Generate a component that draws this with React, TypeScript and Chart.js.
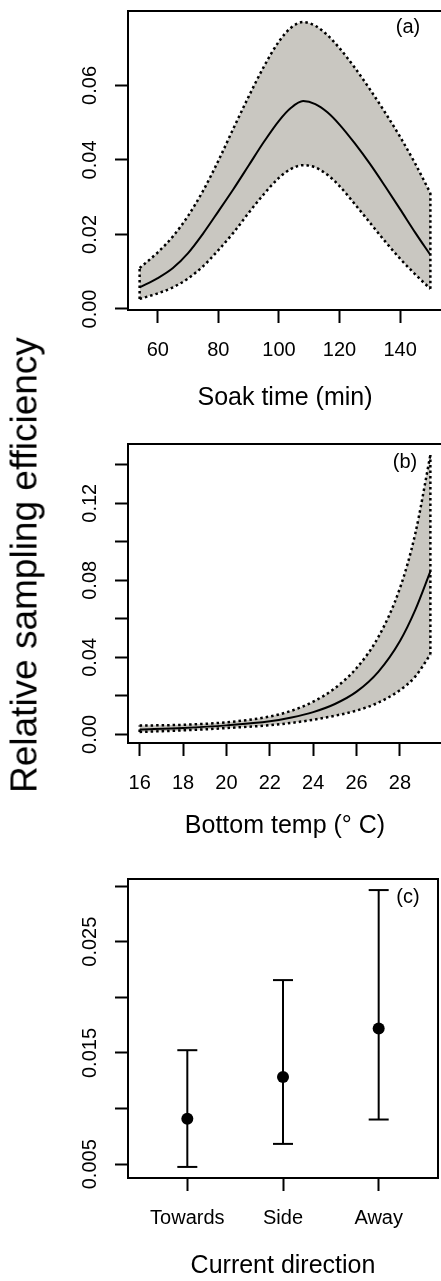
import React, { useEffect, useRef } from 'react';
import { Chart, registerables } from 'chart.js';
Chart.register(...registerables);

// ---------- Data ----------
// (a) Soak time
const SOAK_X = [54, 60, 65, 70, 75, 80, 85, 90, 95, 100, 104, 108, 112, 116, 120, 125, 130, 135, 140, 145, 150];
const SOAK_MEAN = [0.0058, 0.0083, 0.0110, 0.0150, 0.0203, 0.0262, 0.0322, 0.0385, 0.0448, 0.0505, 0.0540, 0.0558, 0.0550, 0.0528, 0.0495, 0.0445, 0.0390, 0.0330, 0.0268, 0.0205, 0.0145];
const SOAK_UPPER = [0.0110, 0.0152, 0.0195, 0.0250, 0.0318, 0.0398, 0.0485, 0.0570, 0.0650, 0.0718, 0.0755, 0.0770, 0.0760, 0.0735, 0.0700, 0.0648, 0.0590, 0.0528, 0.0462, 0.0390, 0.0311];
const SOAK_LOWER = [0.0027, 0.0042, 0.0058, 0.0082, 0.0115, 0.0158, 0.0205, 0.0258, 0.0308, 0.0352, 0.0376, 0.0386, 0.0380, 0.0360, 0.0330, 0.0282, 0.0232, 0.0182, 0.0135, 0.0093, 0.0054];
const SOAK_XTICKS = [60, 80, 100, 120, 140];
const SOAK_YTICKS = [0, 0.02, 0.04, 0.06];
const SOAK_YLABELS = [0, 0.02, 0.04, 0.06];

// (b) Bottom temperature
const TEMP_X = [16, 18, 20, 22, 23, 24, 25, 26, 27, 28, 28.7, 29.4];
const TEMP_MEAN = [0.0026, 0.0034, 0.0047, 0.0068, 0.0088, 0.0116, 0.0158, 0.0222, 0.0325, 0.0485, 0.0645, 0.0846];
const TEMP_UPPER = [0.0046, 0.0050, 0.0063, 0.0093, 0.0123, 0.0170, 0.0240, 0.0345, 0.0505, 0.0760, 0.1040, 0.1450];
const TEMP_LOWER = [0.0013, 0.0021, 0.0033, 0.0048, 0.0060, 0.0076, 0.0097, 0.0124, 0.0165, 0.0230, 0.0300, 0.0415];
const TEMP_XTICKS = [16, 18, 20, 22, 24, 26, 28];
const TEMP_YTICKS = [0, 0.02, 0.04, 0.06, 0.08, 0.10, 0.12, 0.14];
const TEMP_YLABELS = [0, 0.04, 0.08, 0.12];

// (c) Current direction
const DIR_LABELS = ['Towards', 'Side', 'Away'];
const DIR_MEAN = [0.0091, 0.01285, 0.0172];
const DIR_LOWER = [0.00476, 0.00683, 0.00902];
const DIR_UPPER = [0.01525, 0.02155, 0.02964];
const DIR_XLIM = [0.5, 3.5];
const DIR_YTICKS = [0.005, 0.01, 0.015, 0.02, 0.025, 0.03];
const DIR_YLABELS = [0.005, 0.015, 0.025];

// ---------- Style ----------
const FONT = "'Liberation Sans', Arial, sans-serif";
const FILL = '#c9c7c1';
const CANVAS_W = 450;
const AXIS_W = 128;

function padRange(min: number, max: number): [number, number] {
  const r = max - min;
  return [min - r * 0.04, max + r * 0.04];
}

const boxPlugin = {
  id: 'box',
  afterDatasetsDraw(chart: any, _args: any, opts: any) {
    const { ctx, chartArea: a } = chart;
    ctx.save();
    ctx.strokeStyle = '#000';
    ctx.lineWidth = 2;
    ctx.strokeRect(a.left, a.top, a.right - a.left, a.bottom - a.top);
    if (opts && opts.label) {
      ctx.fillStyle = '#000';
      ctx.font = `20px ${FONT}`;
      ctx.textAlign = 'center';
      ctx.textBaseline = 'middle';
      ctx.fillText(opts.label, a.right - opts.dx, a.top + opts.dy);
    }
    ctx.restore();
  },
};

const gridOpts = {
  drawOnChartArea: false,
  drawTicks: true,
  tickLength: 13,
  tickWidth: 2,
  tickColor: '#000',
};

function xScale(range: [number, number], ticks: number[], labelFn: (v: number) => string, title: string, titlePadBottom: number, axisHeight: number) {
  return {
    type: 'linear',
    position: 'bottom',
    min: range[0],
    max: range[1],
    afterBuildTicks: (s: any) => { s.ticks = ticks.map((v) => ({ value: v })); },
    afterFit: (s: any) => { s.height = axisHeight; s.paddingLeft = 0; s.paddingRight = 0; },
    grid: gridOpts,
    border: { display: false },
    ticks: {
      autoSkip: false, minRotation: 0, maxRotation: 0, padding: 15, color: '#000',
      font: { family: FONT, size: 20 },
      callback: (v: any) => labelFn(Number(v)),
    },
    title: {
      display: true, text: title, color: '#000',
      font: { family: FONT, size: 25 },
      padding: { top: 0, bottom: titlePadBottom },
    },
  };
}

function yScale(range: [number, number], ticks: number[], labelled: number[], digits: number, labelPad: number) {
  return {
    type: 'linear',
    position: 'left',
    min: range[0],
    max: range[1],
    afterBuildTicks: (s: any) => { s.ticks = ticks.map((v) => ({ value: v })); },
    afterFit: (s: any) => { s.width = AXIS_W; s.paddingTop = 0; s.paddingBottom = 0; },
    grid: gridOpts,
    border: { display: false },
    ticks: {
      autoSkip: false, minRotation: 90, maxRotation: 90, crossAlign: 'center', padding: labelPad, color: '#000',
      font: { family: FONT, size: 20 },
      callback: (v: any) => (labelled.some((l) => Math.abs(l - Number(v)) < 1e-9) ? Number(v).toFixed(digits) : ''),
    },
  };
}

function bandDatasets(xs: number[], mean: number[], lower: number[], upper: number[]) {
  const pts = (ys: number[]) => xs.map((x, i) => ({ x, y: ys[i] }));
  const dotted = { borderColor: '#000', borderWidth: 2.5, borderDash: [2.5, 3], pointRadius: 0 };
  const n = xs.length - 1;
  return [
    { data: pts(mean), borderColor: '#000', borderWidth: 2, pointRadius: 0, cubicInterpolationMode: 'monotone', fill: false },
    { data: pts(lower), ...dotted, cubicInterpolationMode: 'monotone', fill: false },
    { data: pts(upper), ...dotted, cubicInterpolationMode: 'monotone', fill: 1, backgroundColor: FILL },
    { data: [{ x: xs[0], y: lower[0] }, { x: xs[0], y: upper[0] }], ...dotted, tension: 0, fill: false },
    { data: [{ x: xs[n], y: lower[n] }, { x: xs[n], y: upper[n] }], ...dotted, tension: 0, fill: false },
  ];
}

function baseOptions(padTop: number, scales: any, label: any) {
  return {
    responsive: false,
    animation: false,
    events: [],
    layout: { padding: { left: 0, right: CANVAS_W - 442, top: padTop, bottom: 0 } },
    scales,
    plugins: {
      legend: { display: false },
      tooltip: { enabled: false },
      filler: { drawTime: 'beforeDatasetsDraw' },
      box: label,
    },
  };
}

// Panel geometry (page coords)
const PANEL_A = { top: 0, height: 420, areaTop: 11, areaBottom: 310, titleY: 398 };
const PANEL_B = { top: 420, height: 440, areaTop: 444, areaBottom: 743, titleY: 826 };
const PANEL_C = { top: 860, height: 421, areaTop: 879, areaBottom: 1178, titleY: 1266 };

function geom(p: typeof PANEL_A) {
  return {
    padTop: p.areaTop - p.top,
    axisH: p.top + p.height - p.areaBottom,
    titlePad: p.top + p.height - p.titleY - 15,
  };
}

function configA(): any {
  const g = geom(PANEL_A);
  const xr = padRange(Math.min(...SOAK_X), Math.max(...SOAK_X));
  const yr = padRange(Math.min(...SOAK_LOWER), Math.max(...SOAK_UPPER));
  return {
    type: 'line',
    data: { datasets: bandDatasets(SOAK_X, SOAK_MEAN, SOAK_LOWER, SOAK_UPPER) },
    options: baseOptions(g.padTop, {
      x: xScale(xr, SOAK_XTICKS, (v) => String(v), 'Soak time (min)', g.titlePad, g.axisH),
      y: yScale(yr, SOAK_YTICKS, SOAK_YLABELS, 2, 4.7),
    }, { label: '(a)', dx: 34, dy: 16 }),
    plugins: [boxPlugin],
  };
}

function configB(): any {
  const g = geom(PANEL_B);
  const xr = padRange(Math.min(...TEMP_X), Math.max(...TEMP_X));
  const yr = padRange(Math.min(...TEMP_LOWER), Math.max(...TEMP_UPPER));
  return {
    type: 'line',
    data: { datasets: bandDatasets(TEMP_X, TEMP_MEAN, TEMP_LOWER, TEMP_UPPER) },
    options: baseOptions(g.padTop, {
      x: xScale(xr, TEMP_XTICKS, (v) => String(v), 'Bottom temp (\u00B0 C)', g.titlePad, g.axisH),
      y: yScale(yr, TEMP_YTICKS, TEMP_YLABELS, 2, 4.7),
    }, { label: '(b)', dx: 37, dy: 18 }),
    plugins: [boxPlugin],
  };
}

function configC(): any {
  const g = geom(PANEL_C);
  const xr = padRange(DIR_XLIM[0], DIR_XLIM[1]);
  const yr = padRange(Math.min(...DIR_LOWER), Math.max(...DIR_UPPER));
  const xs = DIR_LABELS.map((_, i) => i + 1);
  const stems = xs.flatMap((x, i) => [{ x, y: DIR_LOWER[i] }, { x, y: DIR_UPPER[i] }, { x, y: null }]);
  const caps = [...xs.map((x, i) => ({ x, y: DIR_UPPER[i] })), ...xs.map((x, i) => ({ x, y: DIR_LOWER[i] }))];
  return {
    type: 'line',
    data: {
      datasets: [
        { data: xs.map((x, i) => ({ x, y: DIR_MEAN[i] })), showLine: false, pointRadius: 6, pointBackgroundColor: '#000', pointBorderColor: '#000', pointBorderWidth: 0, order: 0 },
        { data: caps, showLine: false, pointStyle: 'line', pointRadius: 10, pointBorderColor: '#000', pointBorderWidth: 2, order: 1 },
        { data: stems, borderColor: '#000', borderWidth: 2, pointRadius: 0, spanGaps: false, tension: 0, order: 2 },
      ],
    },
    options: baseOptions(g.padTop, {
      x: xScale(xr, xs, (v) => DIR_LABELS[Math.round(v) - 1] ?? '', 'Current direction', g.titlePad, g.axisH),
      y: yScale(yr, DIR_YTICKS, DIR_YLABELS, 3, -0.8),
    }, { label: '(c)', dx: 30, dy: 18 }),
    plugins: [boxPlugin],
  };
}

function Panel({ top, height, make }: { top: number; height: number; make: () => any }) {
  const ref = useRef<HTMLCanvasElement>(null);
  useEffect(() => {
    const chart = new Chart(ref.current as HTMLCanvasElement, make());
    return () => chart.destroy();
  }, []);
  return (
    <canvas
      ref={ref}
      width={CANVAS_W}
      height={height}
      style={{ position: 'absolute', left: 0, top, width: CANVAS_W, height }}
    />
  );
}

export default function App() {
  return (
    <div style={{ position: 'absolute', left: 0, top: 0, width: 441, height: 1281, overflow: 'hidden', background: '#fff' }}>
      <Panel top={PANEL_A.top} height={PANEL_A.height} make={configA} />
      <Panel top={PANEL_B.top} height={PANEL_B.height} make={configB} />
      <Panel top={PANEL_C.top} height={PANEL_C.height} make={configC} />
      <div
        style={{
          position: 'absolute', left: 24, top: 565,
          transform: 'translate(-50%, -50%) rotate(-90deg)',
          fontFamily: FONT, fontSize: 37, lineHeight: '37px', whiteSpace: 'nowrap', color: '#000',
        }}
      >
        Relative sampling efficiency
      </div>
    </div>
  );
}
